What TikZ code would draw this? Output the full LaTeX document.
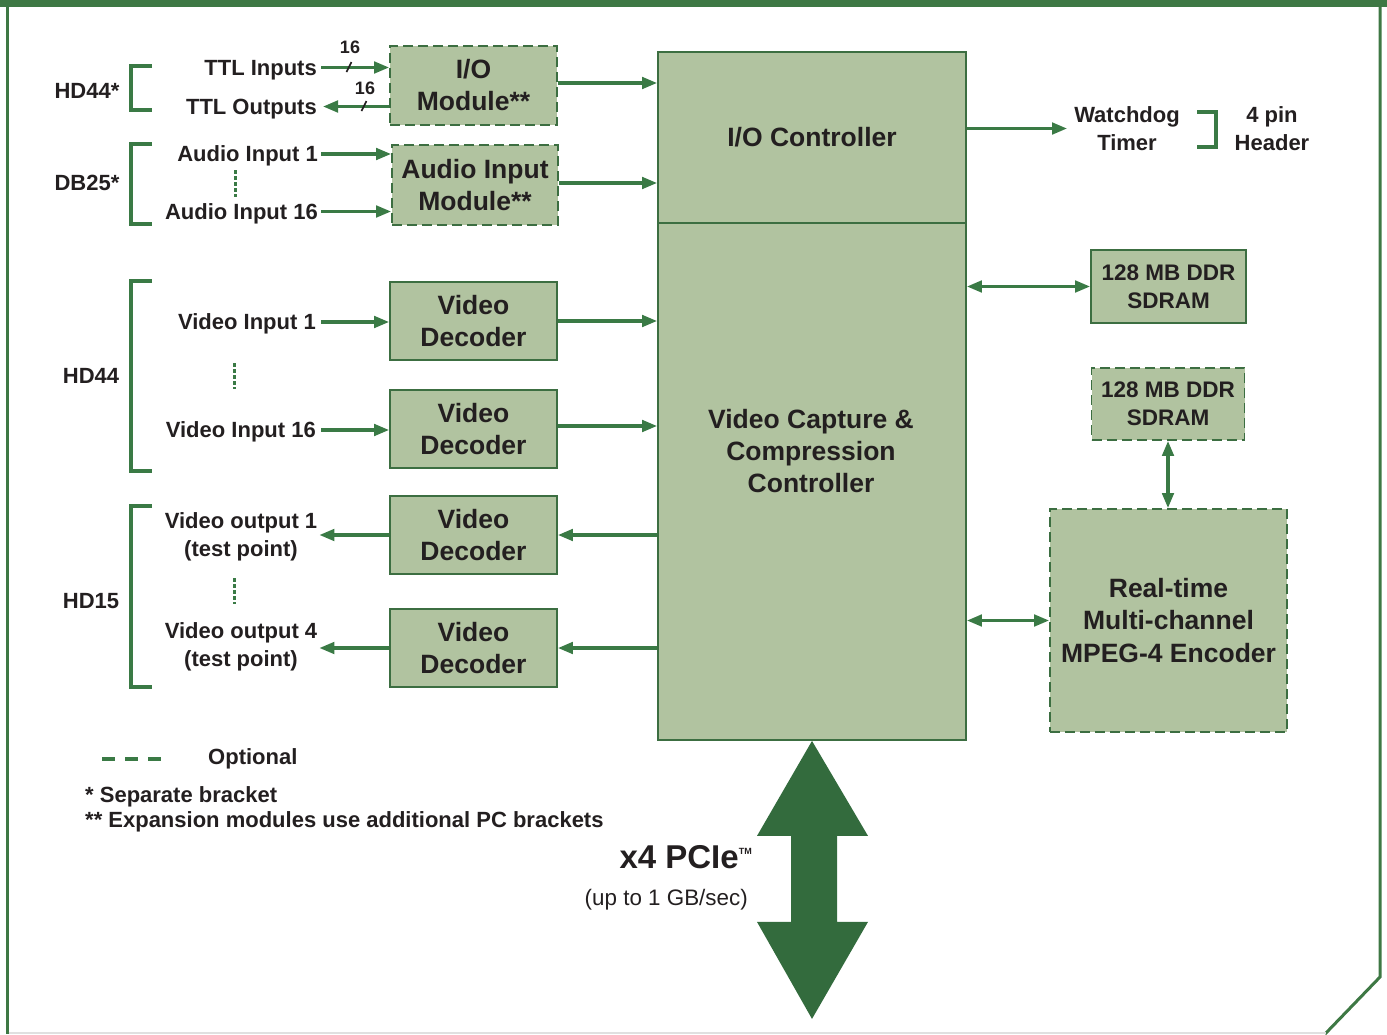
\documentclass[tikz,border=0pt]{standalone}
\usepackage{fontspec}
\setmainfont{Liberation Sans}
\usetikzlibrary{arrows.meta}
\definecolor{boxfill}{HTML}{B1C3A0}
\definecolor{boxedge}{HTML}{3C6E41}
\definecolor{wire}{HTML}{3A7A45}
\definecolor{bus}{HTML}{336B3D}
\definecolor{frame}{HTML}{3E7844}
\definecolor{ink}{HTML}{231F20}
\begin{document}
\begin{tikzpicture}[x=1pt,y=-1pt,
  every node/.style={text=ink},
  lbl/.style={inner sep=0pt, font=\bfseries\fontsize{22}{27}\selectfont, text height=15.8pt, text depth=0pt},
  mlbl/.style={inner sep=0pt, align=center, font=\bfseries\fontsize{22}{27.5}\selectfont},
  blk/.style={draw=boxedge, fill=boxfill, line width=1.8pt, inner sep=0pt, align=center,
              font=\bfseries\fontsize{26.5}{32}\selectfont},
  opt/.style={blk, dash pattern=on 10pt off 5pt},
  decoder/.style={blk, minimum width=167pt, minimum height=78pt},
  arr/.style={draw=wire, line width=3.2pt, -{Triangle[length=15pt,width=11.5pt]}},
  darr/.style={draw=wire, line width=3.2pt, {Triangle[length=15pt,width=11.5pt]}-{Triangle[length=15pt,width=11.5pt]}},
  brk/.style={draw=wire, line width=3.2pt},
  dots/.style={draw=wire, line width=3pt, dash pattern=on 3.5pt off 2.5pt},
  tick/.style={draw=ink, line width=1.6pt},
  buswidth/.style={inner sep=0pt, font=\bfseries\fontsize{18}{18}\selectfont}]

\useasboundingbox (0,0) rectangle (1387,1034);

% page frame with the clipped lower right corner
\fill[frame] (0,0) rectangle (1387,6.5);
\draw[frame, line width=3pt] (7,6) -- (7,1034);
\draw[frame, line width=3pt] (1380,6) -- (1380,977) -- (1325,1034);
\draw[black!12, line width=1.5pt] (8.5,1033) -- (1326,1033);

% functional blocks
\node[opt, minimum width=167pt, minimum height=79pt] (iomod) at (473.5,85.5) {I/O\\Module**};
\node[opt, minimum width=166pt, minimum height=80pt] (audmod) at (475,185) {Audio Input\\Module**};
\node[decoder] (vd1) at (473.5,321) {Video\\Decoder};
\node[decoder] (vd2) at (473.5,429) {Video\\Decoder};
\node[decoder] (vd3) at (473.5,535) {Video\\Decoder};
\node[decoder] (vd4) at (473.5,648) {Video\\Decoder};
\node[blk, minimum width=308pt, minimum height=171pt] (ioctl) at (812,137.5) {I/O Controller};
\node[blk, minimum width=308pt, minimum height=517pt] (vcap) at (812,481.5) {};
\node[inner sep=0pt, align=center, font=\bfseries\fontsize{26.5}{32}\selectfont] (vcaptxt) at (811,451)
  {Video Capture \&\\Compression\\Controller};
\node[blk, minimum width=155pt, minimum height=73pt, font=\bfseries\fontsize{22.5}{28}\selectfont]
  (sdramA) at (1168.5,286.5) {128 MB DDR\\SDRAM};
\node[opt, minimum width=153pt, minimum height=72pt, font=\bfseries\fontsize{22.5}{28}\selectfont]
  (sdramB) at (1168,404) {128 MB DDR\\SDRAM};
\node[opt, minimum width=237pt, minimum height=223pt, font=\bfseries\fontsize{26.5}{32.5}\selectfont]
  (enc) at (1168.5,620.5) {Real-time\\Multi-channel\\MPEG-4 Encoder};

% connector labels
\node[lbl] (hdA) at (87,90.5) {HD44*};
\node[lbl] (dbA) at (87,183) {DB25*};
\node[lbl] (hdB) at (91,376) {HD44};
\node[lbl] (hdC) at (91,601) {HD15};

\node[lbl, anchor=east] (ttlin) at (317,67.5) {TTL Inputs};
\node[lbl, anchor=east] (ttlout) at (317,106.5) {TTL Outputs};
\node[lbl, anchor=east] (aud1) at (318,154) {Audio Input 1};
\node[lbl, anchor=east] (aud16) at (318,211.5) {Audio Input 16};
\node[lbl, anchor=east] (vin1) at (316,322) {Video Input 1};
\node[lbl, anchor=east] (vin16) at (316,430) {Video Input 16};
\node[mlbl] (vout1) at (241,537) {Video output 1\\(test point)};
\node[mlbl] (vout4) at (241,647) {Video output 4\\(test point)};

\node[mlbl] (wdog) at (1127,128.5) {Watchdog\\Timer};
\node[mlbl] (hdr) at (1272,128.5) {4 pin\\Header};

% connector brackets
\draw[brk] (152,66) -- (131,66) -- (131,110) -- (152,110);
\draw[brk] (152,144) -- (131,144) -- (131,224) -- (152,224);
\draw[brk] (152,281) -- (131,281) -- (131,471) -- (152,471);
\draw[brk] (152,506) -- (131,506) -- (131,687) -- (152,687);
\draw[brk] (1197,112) -- (1216,112) -- (1216,147) -- (1197,147);

% channel ellipses
\draw[dots] (235,170) -- (235,197);
\draw[dots] (234,363) -- (234,389);
\draw[dots] (234,578) -- (234,604);

% TTL buses with width marks
\draw[arr] ([xshift=4pt]ttlin.east) -- (iomod.west |- ttlin.east);
\draw[arr] (iomod.west |- ttlout.east) -- ([xshift=6pt]ttlout.east);
\draw[tick] (346.5,72) -- (351.5,62);
\draw[tick] (361.5,111) -- (366.5,101);
\node[buswidth] (wA) at (350,47) {16};
\node[buswidth] (wB) at (365,88) {16};

% audio and I/O paths
\draw[arr] ([xshift=3pt]aud1.east) -- (audmod.west |- aud1.east);
\draw[arr] ([xshift=3pt]aud16.east) -- (audmod.west |- aud16.east);
\draw[arr] ([yshift=2.5pt]iomod.east) -- ([yshift=2.5pt]ioctl.west |- iomod.east);
\draw[arr] ([yshift=2pt]audmod.east) -- ([yshift=2pt]ioctl.west |- audmod.east);

% video paths
\draw[arr] ([xshift=5pt]vin1.east) -- (vd1.west |- vin1.east);
\draw[arr] ([xshift=5pt]vin16.east) -- (vd2.west |- vin16.east);
\draw[arr] (vd1.east) -- (vcap.west |- vd1.east);
\draw[arr] ([yshift=3pt]vd2.east) -- ([yshift=3pt]vcap.west |- vd2.east);
\draw[arr] (vcap.west |- vd3.east) -- (vd3.east);
\draw[arr] (vd3.west) -- ([xshift=2pt]vout1.east |- vd3.west);
\draw[arr] (vcap.west |- vd4.east) -- (vd4.east);
\draw[arr] (vd4.west) -- ([xshift=2pt]vout4.east |- vd4.west);

% right-hand side
\draw[arr] (ioctl.east |- wdog.west) -- ([xshift=-7pt]wdog.west);
\draw[darr] (vcap.east |- sdramA.west) -- (sdramA.west);
\draw[darr] (sdramB.south) -- (sdramB.south |- enc.north);
\draw[darr] (vcap.east |- enc.west) -- (enc.west);

% PCIe host bus
\fill[bus] (vcap.south) -- ++(56,95) -- ++(-31,0) -- ++(0,86) -- ++(31,0) -- ++(-56,97)
  -- ++(-55,-97) -- ++(34,0) -- ++(0,-86) -- ++(-34,0) -- cycle;
\node[inner sep=0pt, anchor=east, font=\bfseries\fontsize{33}{33}\selectfont, text height=23.6pt, text depth=0pt]
  (pcie) at (752,857) {x4 PCIe\raisebox{14pt}{\bfseries\fontsize{9}{9}\selectfont TM}};
\node[inner sep=0pt, anchor=east, font=\fontsize{22.4}{26}\selectfont, text height=16pt, text depth=0pt]
  (rate) at (748,897) {(up to 1 GB/sec)};

% legend and notes
\draw[draw=wire, line width=4pt, dash pattern=on 13pt off 10pt] (102,759) -- (161,759);
\node[lbl, anchor=west] (optl) at (208,757) {Optional};
\node[lbl, anchor=west] (note1) at (85,794.5) {* Separate bracket};
\node[lbl, anchor=west] (note2) at (85,820) {** Expansion modules use additional PC brackets};
\end{tikzpicture}
\end{document}
